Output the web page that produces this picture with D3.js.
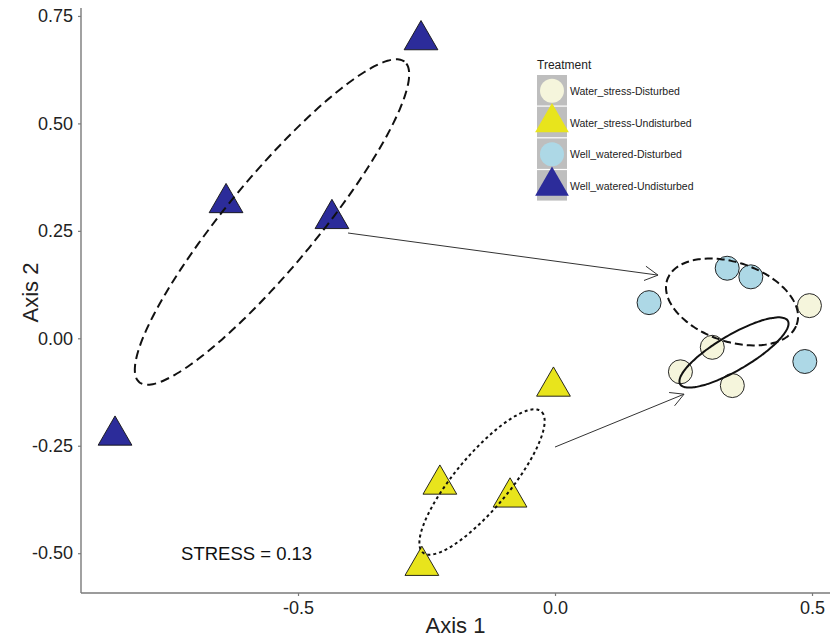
<!DOCTYPE html>
<html>
<head>
<meta charset="utf-8">
<script src="https://cdn.jsdelivr.net/npm/d3@7"></script>
<style>
  html, body { margin: 0; padding: 0; background: #fff; }
  svg { display: block; font-family: "Liberation Sans", Arial, sans-serif; }
</style>
</head>
<body>
<svg id="chart" width="832" height="638"></svg>
<script>
// ---- data ----
const treatments = ["Water_stress-Disturbed", "Water_stress-Undisturbed", "Well_watered-Disturbed", "Well_watered-Undisturbed"];
const treatmentFill = ["#f5f5dc", "#e8e41c", "#add8e6", "#2c2c9a"];
const treatmentShape = ["circle", "triangle", "circle", "triangle"];

// NMDS scores per treatment
const wsDisturbedAxis1 = [0.495, 0.306, 0.244, 0.345];
const wsDisturbedAxis2 = [0.076, -0.021, -0.078, -0.110];
const wsUndisturbedAxis1 = [-0.003, -0.224, -0.0875, -0.259];
const wsUndisturbedAxis2 = [-0.112, -0.340, -0.370, -0.529];
const wwDisturbedAxis1 = [0.183, 0.335, 0.381, 0.486];
const wwDisturbedAxis2 = [0.083, 0.163, 0.143, -0.054];
const wwUndisturbedAxis1 = [-0.2607, -0.640, -0.434, -0.856];
const wwUndisturbedAxis2 = [0.694, 0.315, 0.278, -0.226];

// confidence ellipses (data units): centre, major half-axis vector, minor half-axis vector
const ellipseGroup = [3, 1, 2, 0];
const ellipseCx = [-0.5506, -0.142, 0.3444, 0.3482];
const ellipseCy = [0.2706, -0.3343, 0.0845, -0.0330];
const ellipseMx = [0.2582, 0.115, 0.1260, 0.1047];
const ellipseMy = [0.3727, 0.1643, -0.0519, 0.0738];
const ellipseNx = [0.0675, 0.0403, -0.0251, 0.0173];
const ellipseNy = [-0.0668, -0.0403, -0.0868, -0.0351];

// arrows (data units)
const arrowX1 = [-0.4027, 0.0];
const arrowY1 = [0.245, -0.253];
const arrowX2 = [0.2004, 0.251];
const arrowY2 = [0.147, -0.130];

const xTicks = [-0.5, 0.0, 0.5];
const yTicks = [-0.50, -0.25, 0.00, 0.25, 0.50, 0.75];
const stressLabel = "STRESS = 0.13";
const stressX = -0.6, stressY = -0.50;

(function () {
// ---- build ----
const groupsX = [wsDisturbedAxis1, wsUndisturbedAxis1, wwDisturbedAxis1, wwUndisturbedAxis1];
const groupsY = [wsDisturbedAxis2, wsUndisturbedAxis2, wwDisturbedAxis2, wwUndisturbedAxis2];
const points = [];
groupsX.forEach((xs, g) => xs.forEach((v, i) => points.push({ g, x: v, y: groupsY[g][i] })));

const svg = d3.select("#chart");
const pLeft = 81, pRight = 830, pTop = 8, pBottom = 593;
const x = d3.scaleLinear().domain([-0.9222, 0.535]).range([pLeft, pRight]);
const y = d3.scaleLinear().domain([-0.5926, 0.7685]).range([pBottom, pTop]);

const triR = 19.5, circR = 12;
function triPath(cx, cy, r) {
  const xc = r * Math.sqrt(3) / 2, yc = r / 2;
  return `M${cx},${cy - r}L${cx + xc},${cy + yc}L${cx - xc},${cy + yc}Z`;
}
function drawSymbol(sel, shape, cx, cy, fill) {
  if (shape === "circle") {
    return sel.append("circle").attr("cx", cx).attr("cy", cy).attr("r", circR)
      .attr("fill", fill).attr("stroke", "#111").attr("stroke-width", 0.9);
  }
  return sel.append("path").attr("d", triPath(cx, cy, triR))
    .attr("fill", fill).attr("stroke", "#111").attr("stroke-width", 0.9).attr("stroke-linejoin", "miter");
}

// axes
const fmtX = d => d.toFixed(1);
const fmtY = d => d.toFixed(2);
const xAxis = svg.append("g").attr("transform", `translate(0,${pBottom})`)
  .call(d3.axisBottom(x).tickValues(xTicks).tickFormat(fmtX).tickSize(3).tickSizeOuter(0).tickPadding(5));
const yAxis = svg.append("g").attr("transform", `translate(${pLeft},0)`)
  .call(d3.axisLeft(y).tickValues(yTicks).tickFormat(fmtY).tickSize(3).tickSizeOuter(0).tickPadding(5));
[xAxis, yAxis].forEach(a => {
  a.select(".domain").attr("stroke", "#7a7a7a").attr("stroke-width", 1.4);
  a.selectAll(".tick line").attr("stroke", "#7a7a7a").attr("stroke-width", 1.2);
  a.selectAll(".tick text").attr("fill", "#222").style("font-size", "18px")
    .style("font-family", "'Liberation Sans', Arial, sans-serif");
});
xAxis.select(".domain").attr("d", `M${pLeft},0H${pRight}`);
yAxis.select(".domain").attr("d", `M0,${pTop}V${pBottom}`);

svg.append("text").attr("x", (pLeft + pRight) / 2).attr("y", 633).attr("text-anchor", "middle")
  .attr("fill", "#222").style("font-size", "22px").text("Axis 1");
svg.append("text").attr("transform", `translate(38,${(pTop + pBottom) / 2 - 8}) rotate(-90)`).attr("text-anchor", "middle")
  .attr("fill", "#222").style("font-size", "22px").text("Axis 2");

// points
const gp = svg.append("g");
points.forEach(p => drawSymbol(gp, treatmentShape[p.g], x(p.x), y(p.y), treatmentFill[p.g]));

// ellipses
const dashes = { 3: "9,5", 1: "3,3", 2: "8,4", 0: null };
const ge = svg.append("g");
ellipseGroup.forEach((g, k) => {
  const pts = d3.range(0, 360, 3).map(deg => {
    const t = deg * Math.PI / 180;
    return [x(ellipseCx[k] + ellipseMx[k] * Math.cos(t) + ellipseNx[k] * Math.sin(t)),
            y(ellipseCy[k] + ellipseMy[k] * Math.cos(t) + ellipseNy[k] * Math.sin(t))];
  });
  const path = ge.append("path").attr("d", d3.line().curve(d3.curveCardinalClosed)(pts))
    .attr("fill", "none").attr("stroke", "#111").attr("stroke-width", 2);
  if (dashes[g]) path.attr("stroke-dasharray", dashes[g]);
});

// arrows
const ga = svg.append("g");
arrowX1.forEach((v, i) => {
  const x1 = x(v), y1 = y(arrowY1[i]), x2 = x(arrowX2[i]), y2 = y(arrowY2[i]);
  ga.append("line").attr("x1", x1).attr("y1", y1).attr("x2", x2).attr("y2", y2)
    .attr("stroke", "#333").attr("stroke-width", 1);
  const ang = Math.atan2(y2 - y1, x2 - x1), L = 15, spread = 0.5;
  const a1 = [x2 - L * Math.cos(ang - spread), y2 - L * Math.sin(ang - spread)];
  const a2 = [x2 - L * Math.cos(ang + spread), y2 - L * Math.sin(ang + spread)];
  ga.append("path").attr("d", `M${a1[0]},${a1[1]}L${x2},${y2}L${a2[0]},${a2[1]}`)
    .attr("fill", "none").attr("stroke", "#333").attr("stroke-width", 1);
});

// stress annotation
svg.append("text").attr("x", x(stressX)).attr("y", y(stressY)).attr("text-anchor", "middle")
  .attr("dominant-baseline", "central").attr("fill", "#111").style("font-size", "18.5px").text(stressLabel);

// legend
const lg = svg.append("g").attr("transform", "translate(537,0)");
lg.append("text").attr("x", 0).attr("y", 69).attr("fill", "#222").style("font-size", "12px").text("Treatment");
const keyTop = 75, keyH = 31.7, keyW = 30;
treatments.forEach((t, i) => {
  lg.append("rect").attr("x", 0).attr("y", keyTop + i * keyH).attr("width", keyW).attr("height", keyH - 1.2)
    .attr("fill", "#bebebe");
});
treatments.forEach((t, i) => {
  const cy = keyTop + i * keyH + keyH / 2;
  drawSymbol(lg, treatmentShape[i], keyW / 2, cy, treatmentFill[i]).attr("stroke", "none");
  lg.append("text").attr("x", 33).attr("y", cy).attr("dominant-baseline", "central")
    .attr("fill", "#222").style("font-size", "10.5px").text(t);
});
})();
</script>
</body>
</html>
